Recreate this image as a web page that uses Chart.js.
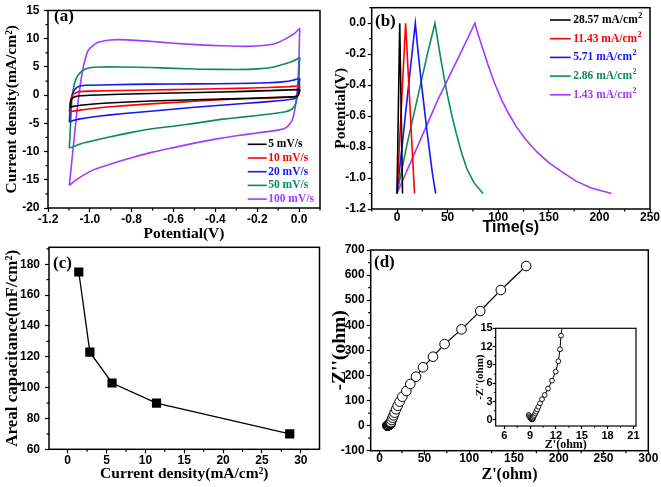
<!DOCTYPE html>
<html><head><meta charset="utf-8">
<script src="https://cdn.jsdelivr.net/npm/chart.js@4.4.1/dist/chart.umd.min.js"></script>
<style>
html,body{margin:0;padding:0;background:#fff;}
body{width:661px;height:487px;position:relative;overflow:hidden;}
canvas{position:absolute;left:0;top:0;}
</style></head><body>
<canvas id="cA" width="661" height="487"></canvas>
<canvas id="cB" width="661" height="487"></canvas>
<canvas id="cC" width="661" height="487"></canvas>
<canvas id="cD" width="661" height="487"></canvas>
<canvas id="cE" width="661" height="487"></canvas>
<script>
// ---------------- DATA ----------------
// (a) cyclic voltammetry loops: [potential V, current density mA/cm2]
const cvLabels = ['5 mV/s', '10 mV/s', '20 mV/s', '50 mV/s', '100 mV/s'];
const cv5 = [[-1.094,-2.1],[-1.092,-1.3],[-1.086,-0.65],[-1.072,-0.3],[-1.05,-0.12],[-1.0,-0.02],[-0.71,0.3],[-0.374,0.55],[-0.15,0.8],[0.003,0.98],
  [0.002,0.6],[-0.003,0.1],[-0.008,-0.2],[-0.03,-0.3],[-0.1,-0.4],[-0.374,-0.7],[-0.71,-1.05],[-0.918,-1.4],[-1.046,-1.8],[-1.094,-2.1]];
const cv10 = [[-1.098,-2.97],[-1.095,-1.8],[-1.091,-0.7],[-1.083,-0.05],[-1.07,0.35],[-1.054,0.6],[-1.0,0.72],[-0.71,0.9],[-0.5,1.05],[-0.3,1.2],[-0.15,1.35],[-0.05,1.5],[0.003,1.65],
  [0.002,1.2],[0.0,0.6],[-0.008,0.0],[-0.018,-0.25],[-0.054,-0.36],[-0.2,-0.6],[-0.374,-0.8],[-0.55,-1.2],[-0.71,-1.55],[-0.918,-2.1],[-1.046,-2.65],[-1.098,-2.97]];
const cv20 = [[-1.098,-4.8],[-1.095,-3.0],[-1.091,-1.2],[-1.083,0.2],[-1.072,1.0],[-1.054,1.55],[-1.02,1.75],[-0.9,1.85],[-0.71,1.95],[-0.5,2.0],[-0.3,2.05],[-0.15,2.2],[-0.07,2.4],[-0.03,2.65],[0.003,2.95],
  [0.002,2.5],[0.0,1.2],[-0.006,0.1],[-0.015,-0.45],[-0.03,-0.7],[-0.07,-0.9],[-0.134,-1.1],[-0.25,-1.45],[-0.374,-1.8],[-0.5,-2.15],[-0.71,-2.85],[-0.85,-3.3],[-0.95,-3.7],[-1.046,-4.2],[-1.08,-4.5],[-1.098,-4.8]];
const cv50 = [[-1.098,-9.4],[-1.092,-5.0],[-1.086,-0.8],[-1.075,1.8],[-1.062,3.2],[-1.045,4.0],[-1.03,4.45],[-1.0,4.85],[-0.95,5.0],[-0.85,5.0],[-0.71,4.9],[-0.6,4.75],[-0.47,4.6],[-0.3,4.55],[-0.2,4.65],[-0.12,5.0],[-0.07,5.5],[-0.03,6.0],[0.003,6.6],
  [0.002,6.0],[0.0,3.5],[-0.004,1.5],[-0.01,-0.6],[-0.02,-1.8],[-0.035,-2.5],[-0.07,-3.0],[-0.15,-3.4],[-0.25,-3.8],[-0.374,-4.3],[-0.5,-5.0],[-0.6,-5.5],[-0.71,-6.0],[-0.8,-6.6],[-0.918,-7.5],[-1.0,-8.2],[-1.05,-8.7],[-1.098,-9.4]];
const cv100 = [[-1.098,-16.0],[-1.08,-9.5],[-1.062,-3.0],[-1.045,2.0],[-1.03,5.2],[-1.007,8.0],[-0.966,9.3],[-0.902,9.78],[-0.82,9.8],[-0.7,9.5],[-0.6,9.2],[-0.47,8.9],[-0.37,8.75],[-0.25,8.65],[-0.17,8.8],[-0.11,9.2],[-0.054,10.2],[-0.02,11.0],[0.003,11.8],
  [0.002,10.5],[0.0,7.0],[-0.004,3.5],[-0.01,0.5],[-0.02,-2.5],[-0.035,-4.6],[-0.06,-5.7],[-0.1,-6.2],[-0.2,-6.7],[-0.3,-7.2],[-0.4,-7.8],[-0.5,-8.5],[-0.6,-9.3],[-0.7,-10.1],[-0.8,-11.1],[-0.9,-12.2],[-0.98,-13.2],[-1.04,-14.4],[-1.075,-15.3],[-1.098,-16.0]];
const cvColors = ['#000000', '#ff0000', '#1414ff', '#0b8a60', '#a33bff'];

// (b) galvanostatic charge/discharge: [time s, potential V]
const gcdLabels = ['28.57 mA/cm', '11.43 mA/cm', '5.71 mA/cm', '2.86 mA/cm', '1.43 mA/cm'];
const gcd28 = [[0,-1.1],[2.7,0],[5.5,-1.1]];
const gcd11 = [[0,-1.1],[8.5,0],[12.9,-0.55],[17.3,-1.1]];
const gcd5 = [[0,-1.1],[9,-0.55],[18.1,0],[20,-0.13],[22,-0.26],[24.5,-0.41],[27,-0.55],[29.5,-0.69],[32,-0.82],[35,-0.97],[38.2,-1.1]];
const gcd2 = [[0,-1.1],[10,-0.78],[20,-0.49],[30,-0.2],[37.5,0],[40,-0.1],[43,-0.22],[46.5,-0.35],[50,-0.47],[54,-0.59],[58.5,-0.71],[63.5,-0.83],[69,-0.94],[76,-1.03],[85,-1.1]];
const gcd1 = [[0,-1.1],[20,-0.8],[40,-0.5],[60,-0.23],[77,0],[80,-0.07],[85,-0.17],[90,-0.27],[96,-0.38],[103,-0.49],[110,-0.58],[118,-0.67],[127,-0.75],[138,-0.83],[150,-0.9],[163,-0.96],[177,-1.02],[192,-1.065],[212,-1.1]];
const gcdColors = ['#000000', '#ff0000', '#1414ff', '#0b8a60', '#a33bff'];

// (c) areal capacitance vs current density
const capCurrent = [1.43, 2.86, 5.71, 11.43, 28.57];
const capValue = [175, 123, 103, 90, 70];

// (d) Nyquist plot
const eisZre = [8.83,8.9,8.98,9.05,9.12,9.18,9.22,9.26,9.3,9.35,9.42,9.5,9.6,9.7,9.82,9.96,10.15,10.38,10.69,11.08,11.54,11.97,12.28,12.47,12.59,
  13.4,14.5,15.6,16.7,18.3,20.1,22.3,25.3,29.8,34.2,40.6,48.4,59.5,72.5,91.4,112.3,135.3,163.6];
const eisZim = [0.82,0.6,0.42,0.28,0.17,0.1,0.08,0.12,0.22,0.38,0.58,0.8,1.05,1.35,1.72,2.15,2.72,3.38,4.09,5.12,6.43,7.9,9.6,11.56,13.8,
  22.4,31.7,41,51.6,65,79.4,95.4,115,138,166,195,232.5,274.7,325,383.7,456.8,540.5,636];

// tick values / labels
const aXTicks = [-1.2,-1.0,-0.8,-0.6,-0.4,-0.2,0.0];
const aXLabels = ['-1.2','-1.0','-0.8','-0.6','-0.4','-0.2','0.0'];
const aYTicks = [-20,-15,-10,-5,0,5,10,15];
const aYLabels = ['-20','-15','-10','-5','0','5','10','15'];
const bXTicks = [0,50,100,150,200,250];
const bXLabels = ['0','50','100','150','200','250'];
const bYTicks = [-1.2,-1.0,-0.8,-0.6,-0.4,-0.2,0.0];
const bYLabels = ['-1.2','-1.0','-0.8','-0.6','-0.4','-0.2','0.0'];
const cXTicks = [0,5,10,15,20,25,30];
const cXLabels = ['0','5','10','15','20','25','30'];
const cYTicks = [60,80,100,120,140,160,180];
const cYLabels = ['60','80','100','120','140','160','180'];
const dXTicks = [0,50,100,150,200,250,300];
const dXLabels = ['0','50','100','150','200','250','300'];
const dYTicks = [-100,0,100,200,300,400,500,600,700];
const dYLabels = ['-100','0','100','200','300','400','500','600','700'];
const eXTicks = [6,9,12,15,18,21];
const eXLabels = ['6','9','12','15','18','21'];
const eYTicks = [0,3,6,9,12,15];
const eYLabels = ['0','3','6','9','12','15'];

// ---------------- RENDER ----------------
const SANS = "'Liberation Sans', Arial, sans-serif";
const SERIF = "'Liberation Serif', 'Times New Roman', serif";
const W = 661, H = 487;

function minorsOf(ticks, min, max) {
  const out = [];
  const st = ticks[1] - ticks[0];
  if (ticks[0] - st / 2 >= min - 1e-9) out.push(ticks[0] - st / 2);
  for (let i = 0; i < ticks.length - 1; i++) out.push((ticks[i] + ticks[i + 1]) / 2);
  const last = ticks[ticks.length - 1];
  if (last + st / 2 <= max + 1e-9) out.push(last + st / 2);
  return out;
}

const deco = {
  id: 'deco',
  afterDraw(chart, args, o) {
    const ctx = chart.ctx, ca = chart.chartArea;
    ctx.save();
    ctx.strokeStyle = '#000';
    ctx.lineWidth = o.frame || 1.5;
    ctx.strokeRect(ca.left, ca.top, ca.right - ca.left, ca.bottom - ca.top);
    ctx.lineWidth = o.tickW || 1.2;
    const xs = chart.scales.x, ys = chart.scales.y;
    ctx.beginPath();
    for (const v of minorsOf(o.xt, xs.min, xs.max)) {
      const p = xs.getPixelForValue(v);
      ctx.moveTo(p, ca.bottom); ctx.lineTo(p, ca.bottom + o.minor);
    }
    for (const v of minorsOf(o.yt, ys.min, ys.max)) {
      const p = ys.getPixelForValue(v);
      ctx.moveTo(ca.left, p); ctx.lineTo(ca.left - o.minor, p);
    }
    ctx.stroke();
    if (o.label) {
      ctx.fillStyle = '#000';
      ctx.font = 'bold ' + o.label.size + 'px ' + SERIF;
      ctx.textBaseline = 'middle'; ctx.textAlign = 'left';
      ctx.fillText(o.label.text, o.label.x, o.label.y);
    }
    if (o.legend) {
      const L = o.legend;
      chart.data.datasets.forEach((ds, i) => {
        const y = L.y + i * L.row;
        ctx.strokeStyle = ds.borderColor; ctx.lineWidth = L.lw;
        ctx.beginPath(); ctx.moveTo(L.x, y); ctx.lineTo(L.x + L.len, y); ctx.stroke();
        ctx.fillStyle = ds.borderColor;
        ctx.font = 'bold ' + L.size + 'px ' + SERIF;
        ctx.textBaseline = 'middle'; ctx.textAlign = 'left';
        const tx = L.x + L.len + L.gap;
        ctx.fillText(ds.label, tx, y);
        if (L.sup) {
          const w = ctx.measureText(ds.label).width;
          ctx.font = 'bold ' + L.supSize + 'px ' + SERIF;
          ctx.fillText(L.sup, tx + w + 0.5, y - L.supRaise);
        }
      });
    }
    ctx.restore();
  }
};

function axis(c) {
  return {
    type: 'linear', min: c.min, max: c.max,
    border: { display: false },
    grid: { display: true, drawOnChartArea: false, drawTicks: true, tickLength: c.tl, tickColor: '#000', tickWidth: 1.2, color: '#000' },
    ticks: {
      color: '#000', padding: c.pad, autoSkip: false, maxRotation: 0,
      font: { family: c.tickFam || SANS, weight: 'bold', size: c.tickSize, lineHeight: 1 },
      callback: (v, i) => c.labels[i]
    },
    afterBuildTicks: s => { s.ticks = c.ticks.map(v => ({ value: v })); },
    afterFit: s => { if (c.h) s.height = c.size; else s.width = c.size; },
    title: { display: true, text: c.title, color: '#000', padding: c.tpad,
      font: { family: c.titleFam || SERIF, weight: 'bold', size: c.titleSize, lineHeight: 1 } }
  };
}

function make(id, type, datasets, P, xa, ya, deco_o) {
  return new Chart(document.getElementById(id), {
    type: type,
    data: { datasets: datasets },
    options: {
      responsive: false, devicePixelRatio: 1, animation: false,
      layout: { padding: { left: P.L - P.yW, top: P.T, right: W - P.R, bottom: H - P.B - P.xH } },
      plugins: { legend: { display: false }, tooltip: { enabled: false }, deco: deco_o },
      scales: {
        x: Object.assign(axis(xa), { position: 'bottom' }),
        y: Object.assign(axis(ya), { position: 'left' })
      }
    },
    plugins: [deco]
  });
}

const toXY = arr => arr.map(p => ({ x: p[0], y: p[1] }));

// (a)
make('cA', 'scatter',
  [cv5, cv10, cv20, cv50, cv100].map((d, i) => ({
    label: cvLabels[i], data: toXY(d), showLine: true, borderColor: cvColors[i], backgroundColor: cvColors[i],
    borderWidth: 1.6, pointRadius: 0, tension: 0.15, fill: false
  })),
  { L: 48, T: 7, R: 320, B: 208, yW: 48, xH: 36 },
  { h: true, min: -1.2, max: 0.1, ticks: aXTicks, labels: aXLabels, tl: 4, pad: 2, tickSize: 12, size: 36,
    title: 'Potential(V)', titleSize: 15.5, tpad: { bottom: 2.25, top: 0 } },
  { min: -20, max: 15, ticks: aYTicks, labels: aYLabels, tl: 4, pad: 4.5, tickSize: 12, size: 48,
    title: 'Current density(mA/cm\u00B2)', titleSize: 15.5, tpad: { top: 4.25, bottom: 0 } },
  { xt: aXTicks, yt: aYTicks, minor: 2.5,
    label: { text: '(a)', x: 54, y: 17, size: 17 },
    legend: { x: 247.7, y: 144.3, row: 13.7, len: 19, gap: 1.5, lw: 1.6, size: 11.5 } }
);

// (b)
make('cB', 'scatter',
  [gcd28, gcd11, gcd5, gcd2, gcd1].map((d, i) => ({
    label: gcdLabels[i], data: toXY(d), showLine: true, borderColor: gcdColors[i], backgroundColor: gcdColors[i],
    borderWidth: 1.6, pointRadius: 0, tension: 0, fill: false
  })),
  { L: 371.7, T: 6, R: 650, B: 209, yW: 41.7, xH: 36 },
  { h: true, min: -25, max: 250, ticks: bXTicks, labels: bXLabels, tl: 4, pad: -1.5, tickSize: 12, size: 36,
    title: 'Time(s)', titleFam: SANS, titleSize: 16, tpad: { bottom: 9, top: 0 } },
  { min: -1.2, max: 0.1, ticks: bYTicks, labels: bYLabels, tl: 4, pad: 1.7, tickSize: 12, size: 41.7,
    title: 'Potential(V)', titleSize: 15.5, tpad: { top: 3.25, bottom: 0 } },
  { xt: bXTicks, yt: bYTicks, minor: 2.5,
    label: { text: '(b)', x: 375, y: 21.7, size: 17 },
    legend: { x: 550, y: 20, row: 18.7, len: 20.7, gap: 2.5, lw: 1.6, size: 11.5, sup: '2', supSize: 8, supRaise: 4 } }
);

// (c)
make('cC', 'scatter',
  [{ label: 'cap', data: capCurrent.map((x, i) => ({ x: x, y: capValue[i] })), showLine: true,
     borderColor: '#000', backgroundColor: '#000', borderWidth: 1.3, pointStyle: 'rect', pointRadius: 6.5, pointBorderWidth: 0 }],
  { L: 49, T: 247.3, R: 319.5, B: 449.3, yW: 49, xH: 37.7 },
  { h: true, min: -2.4, max: 32.4, ticks: cXTicks, labels: cXLabels, tl: 4, pad: 1.2, tickSize: 12, size: 37.7,
    title: 'Current density(mA/cm\u00B2)', titleSize: 15.5, tpad: { bottom: 5.25, top: 0 } },
  { min: 60, max: 191, ticks: cYTicks, labels: cYLabels, tl: 4, pad: 5, tickSize: 12, size: 49,
    title: 'Areal capacitance(mF/cm\u00B2)', titleSize: 17, tpad: { top: 4, bottom: 0 } },
  { xt: cXTicks, yt: cYTicks, minor: 2.5, label: { text: '(c)', x: 53, y: 264, size: 17 } }
);

// (d) main
const eisData = eisZre.map((x, i) => ({ x: x, y: eisZim[i] }));
make('cD', 'scatter',
  [{ label: 'eis', data: eisData, showLine: true, borderColor: '#000', backgroundColor: '#fff',
     borderWidth: 1.2, pointRadius: 4.8, pointBorderWidth: 1, pointBorderColor: '#000', pointBackgroundColor: '#fff' }],
  { L: 370.7, T: 250, R: 648.3, B: 450.7, yW: 40.7, xH: 36.3 },
  { h: true, min: -10, max: 300, ticks: dXTicks, labels: dXLabels, tl: 4, pad: -2, tickSize: 12, size: 36.3,
    title: "Z'(ohm)", titleSize: 16, tpad: { bottom: 4, top: 0 } },
  { min: -100, max: 700, ticks: dYTicks, labels: dYLabels, tl: 4, pad: 2, tickSize: 12, size: 40.7,
    title: "-Z''(ohm)", titleSize: 19.5, tpad: { top: 0.5, bottom: 0 } },
  { xt: dXTicks, yt: dYTicks, minor: 2.5, label: { text: '(d)', x: 374, y: 262.5, size: 17 } }
);

// (d) inset
make('cE', 'scatter',
  [{ label: 'eis', data: eisData, showLine: true, borderColor: '#000', backgroundColor: '#fff',
     borderWidth: 1, pointRadius: 2.4, pointBorderWidth: 0.9, pointBorderColor: '#000', pointBackgroundColor: '#fff' }],
  { L: 495.7, T: 328.3, R: 636, B: 426, yW: 25, xH: 26 },
  { h: true, min: 5, max: 21.3, ticks: eXTicks, labels: eXLabels, tl: 3, pad: 1, tickSize: 11, size: 26,
    title: "Z'(ohm)", titleSize: 12, tpad: { bottom: 1.5, top: 0 } },
  { min: -1, max: 15, ticks: eYTicks, labels: eYLabels, tl: 3, pad: 0, tickSize: 11, size: 25,
    title: "-Z''(ohm)", titleSize: 11, tpad: { top: 4, bottom: 0 } },
  { xt: eXTicks, yt: eYTicks, minor: 1.8, frame: 1.2, tickW: 1 }
);
</script>
</body></html>
